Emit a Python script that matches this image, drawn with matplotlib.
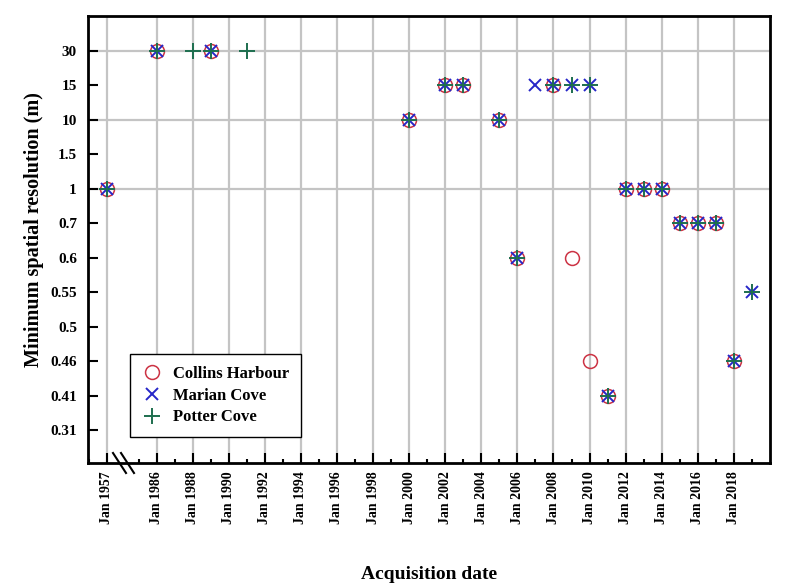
import matplotlib
matplotlib.use("Agg")
import matplotlib.pyplot as plt
from matplotlib.lines import Line2D

plt.rcParams['font.family'] = ['Liberation Serif', 'DejaVu Serif']
plt.rcParams['font.weight'] = 'bold'

# ---- data ----
res_levels = ["0.31", "0.41", "0.46", "0.5", "0.55", "0.6", "0.7", "1", "1.5", "10", "15", "30"]
tick_years = [1957] + list(range(1986, 2019, 2))
tick_labels = ["Jan %d" % y for y in tick_years]

collins_years = [1957, 1986, 1989, 2000, 2002, 2003, 2005, 2006, 2008, 2009, 2010,
                 2011, 2012, 2013, 2014, 2015, 2016, 2017, 2018]
collins_res = ["1", "30", "30", "10", "15", "15", "10", "0.6", "15", "0.6", "0.46",
               "0.41", "1", "1", "1", "0.7", "0.7", "0.7", "0.46"]

marian_years = [1957, 1986, 1989, 2000, 2002, 2003, 2005, 2006, 2007, 2008, 2009, 2010,
                2011, 2012, 2013, 2014, 2015, 2016, 2017, 2018, 2019]
marian_res = ["1", "30", "30", "10", "15", "15", "10", "0.6", "15", "15", "15", "15",
              "0.41", "1", "1", "1", "0.7", "0.7", "0.7", "0.46", "0.55"]

potter_years = [1957, 1986, 1988, 1989, 1991, 2000, 2002, 2003, 2005, 2006, 2008, 2009, 2010,
                2011, 2012, 2013, 2014, 2015, 2016, 2017, 2018, 2019]
potter_res = ["1", "30", "30", "30", "30", "10", "15", "15", "10", "0.6", "15", "15", "15",
              "0.41", "1", "1", "1", "0.7", "0.7", "0.7", "0.46", "0.55"]

# axis break: 1957 is drawn just left of 1986
BREAK_POS = 1983.23


def xpos(year):
    return BREAK_POS if year == 1957 else year


def ypos(r):
    return res_levels.index(r)


fig = plt.figure(figsize=(7.87, 5.88), dpi=100)
ax = fig.add_axes([88 / 787, 1 - 463 / 588, (770 - 88) / 787, (463 - 16) / 588])

ax.set_xlim(1982.2, 2020.0)
ax.set_ylim(-0.95, 12.0)

# grid
for y in tick_years:
    ax.axvline(xpos(y), color='#c4c4c4', lw=1.6, zorder=0)
for r in ["30", "10", "1"]:
    ax.axhline(ypos(r), color='#c4c4c4', lw=1.6, zorder=0)

red = '#cc3344'
blue = '#2626c8'
green = '#1d6e4e'

ax.plot([xpos(y) for y in collins_years], [ypos(r) for r in collins_res], 'o',
        ms=10, mfc='none', mec=red, mew=1.1, ls='none', label='Collins Harbour', zorder=3)
ax.plot([xpos(y) for y in marian_years], [ypos(r) for r in marian_res], 'x',
        ms=9, mec=blue, mew=1.4, ls='none', label='Marian Cove', zorder=4)
ax.plot([xpos(y) for y in potter_years], [ypos(r) for r in potter_res], '+',
        ms=11, mec=green, mew=1.4, ls='none', label='Potter Cove', zorder=5)

# ticks
ax.set_xticks([xpos(y) for y in tick_years])
ax.set_xticklabels(tick_labels, rotation=90, fontsize=10, fontweight='bold')
minor = [BREAK_POS - 1] + list(range(1985, 2020, 2))
ax.set_xticks(minor, minor=True)
ax.set_yticks(range(len(res_levels)))
ax.set_yticklabels(res_levels, fontsize=11, fontweight='bold')

ax.tick_params(axis='both', which='major', direction='in', length=7, width=1.5)
ax.tick_params(axis='x', which='major', pad=6)
ax.tick_params(axis='y', which='major', pad=8)
ax.tick_params(axis='x', which='minor', direction='in', length=3, width=1.5)
ax.tick_params(axis='y', which='minor', left=False)

for s in ax.spines.values():
    s.set_linewidth(2)
    s.set_color('black')

ax.set_xlabel('Acquisition date', fontsize=14, fontweight='bold', labelpad=30)
ax.set_ylabel('Minimum spatial resolution (m)', fontsize=14.5, fontweight='bold')
ax.yaxis.set_label_coords((44 - 88) / 682, (463 - 230) / 447)

# break marks
for dx in (0, 8):
    x0 = 113 + dx
    ax.add_line(Line2D([(x0 - 88) / 682, (x0 + 13 - 88) / 682],
                       [(463 - 453) / 447, (463 - 473) / 447],
                       transform=ax.transAxes, color='black', lw=1.5, clip_on=False))

leg = ax.legend(loc='lower left', bbox_to_anchor=((130 - 88) / 682, (463 - 437) / 447),
                frameon=True, fancybox=False, edgecolor='black', framealpha=1,
                prop={'family': 'Liberation Serif', 'weight': 'bold', 'size': 12},
                handlelength=1.25, handletextpad=0.65, borderpad=0.7,
                labelspacing=0.34, borderaxespad=0)
leg.get_frame().set_linewidth(1.0)

fig.savefig('out.png', dpi=100)
